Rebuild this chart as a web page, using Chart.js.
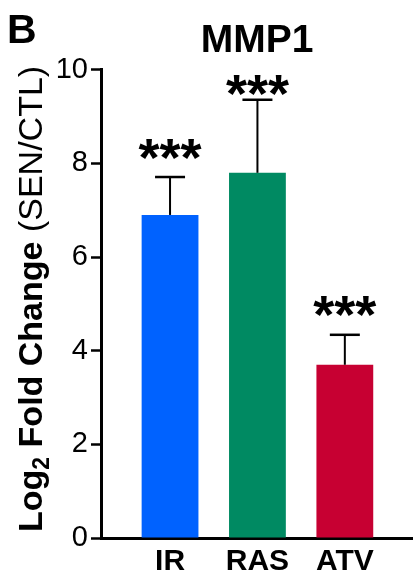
<!DOCTYPE html>
<html>
<head>
<meta charset="utf-8">
<script src="https://cdn.jsdelivr.net/npm/chart.js@4"></script>
<style>
  html, body { margin: 0; padding: 0; background: #fff; }
  #wrap { width: 413px; height: 576px; position: relative; }
</style>
</head>
<body>
<div id="wrap"><canvas id="mmpChart"></canvas></div>
<script>
// data
const groups = ['IR', 'RAS', 'ATV'];
const meanLog2FC = [6.90, 7.80, 3.70];
const semUpper = [0.81, 1.56, 0.64];
const sigMarks = ['***', '***', '***'];
const barColors = ['#0062FF', '#008A62', '#C70032'];
const yTicks = [0, 2, 4, 6, 8, 10];

const FONT = '"Liberation Sans", Arial, Helvetica, sans-serif';

// error bars + stars + panel letter + y title
const extrasPlugin = {
  id: 'extras',
  afterDatasetsDraw(chart) {
    const ctx = chart.ctx;
    const xs = chart.scales.x, ys = chart.scales.y;
    const area = chart.chartArea;
    ctx.save();
    ctx.strokeStyle = '#000';
    groups.forEach((g, i) => {
      const x = xs.getPixelForValue(i);
      const yMean = ys.getPixelForValue(meanLog2FC[i]);
      const yCap = ys.getPixelForValue(meanLog2FC[i] + semUpper[i]);
      ctx.lineWidth = 2;
      ctx.beginPath();
      ctx.moveTo(x, yMean);
      ctx.lineTo(x, yCap);
      ctx.stroke();
      ctx.lineWidth = 2.5;
      ctx.beginPath();
      ctx.moveTo(x - 15, yCap);
      ctx.lineTo(x + 15, yCap);
      ctx.stroke();

      // stars, centred a bit above the cap
      ctx.font = 'bold 54px ' + FONT;
      ctx.fillStyle = '#000';
      ctx.textAlign = 'center';
      ctx.textBaseline = 'alphabetic';
      const m = ctx.measureText(sigMarks[i]);
      const cy = Math.max(yCap - 28, area.top + 16);
      const base = cy + (m.actualBoundingBoxAscent - m.actualBoundingBoxDescent) / 2;
      ctx.fillText(sigMarks[i], x, base);
    });
    ctx.restore();
  },
  afterDraw(chart) {
    const ctx = chart.ctx;
    const area = chart.chartArea;
    ctx.save();
    ctx.fillStyle = '#000';
    ctx.textBaseline = 'alphabetic';
    ctx.textAlign = 'left';
    ctx.font = 'bold 41px ' + FONT;
    ctx.fillText('B', 7, 43);

    // rotated y axis title with subscript and mixed weight
    const runs = [
      { t: 'Log', f: 'bold 34px ' + FONT, dy: 0 },
      { t: '2', f: 'bold 23px ' + FONT, dy: 7 },
      { t: ' Fold Change ', f: 'bold 34px ' + FONT, dy: 0 },
      { t: '(SEN/CTL)', f: '34px ' + FONT, dy: 0 }
    ];
    let total = 0;
    runs.forEach(r => { ctx.font = r.f; r.w = ctx.measureText(r.t).width; total += r.w; });
    ctx.translate(42, (area.top + area.bottom) / 2 - 5);
    ctx.rotate(-Math.PI / 2);
    let u = -total / 2;
    runs.forEach(r => {
      ctx.font = r.f;
      ctx.fillText(r.t, u, r.dy);
      u += r.w;
    });
    ctx.restore();
  }
};

const ctx = document.getElementById('mmpChart').getContext('2d');
new Chart(ctx, {
  type: 'bar',
  data: {
    datasets: [{
      data: groups.map((g, i) => ({ x: i, y: meanLog2FC[i] })),
      backgroundColor: barColors,
      borderWidth: 0,
      categoryPercentage: 1,
      barPercentage: 0.65
    }]
  },
  options: {
    responsive: true,
    maintainAspectRatio: false,
    animation: false,
    layout: { padding: 0 },
    plugins: {
      legend: { display: false },
      tooltip: { enabled: false },
      title: {
        display: true,
        text: 'MMP1',
        fullSize: false,
        color: '#000',
        font: { family: FONT, size: 39, weight: 'bold' },
        padding: { top: 18, bottom: 5 }
      }
    },
    scales: {
      x: {
        type: 'linear',
        min: -0.79,
        max: 2.78,
        offset: false,
        afterBuildTicks: s => { s.ticks = groups.map((g, i) => ({ value: i })); },
        afterFit: s => { s.height = 38; },
        grid: { display: false, drawTicks: false, tickLength: 0 },
        border: { display: true, color: '#000', width: 3 },
        ticks: {
          color: '#000',
          padding: 6,
          font: { family: FONT, size: 30, weight: 'bold' },
          callback: v => groups[v]
        }
      },
      y: {
        min: 0,
        max: 10,
        afterBuildTicks: s => { s.ticks = yTicks.map(v => ({ value: v })); },
        afterFit: s => { s.width = 101; },
        grid: { drawOnChartArea: false, color: '#000', tickLength: 10, tickWidth: 2.5 },
        border: { display: true, color: '#000', width: 3 },
        ticks: {
          color: '#000',
          padding: 3,
          font: { family: FONT, size: 29 }
        }
      }
    }
  },
  plugins: [extrasPlugin]
});
</script>
</body>
</html>
